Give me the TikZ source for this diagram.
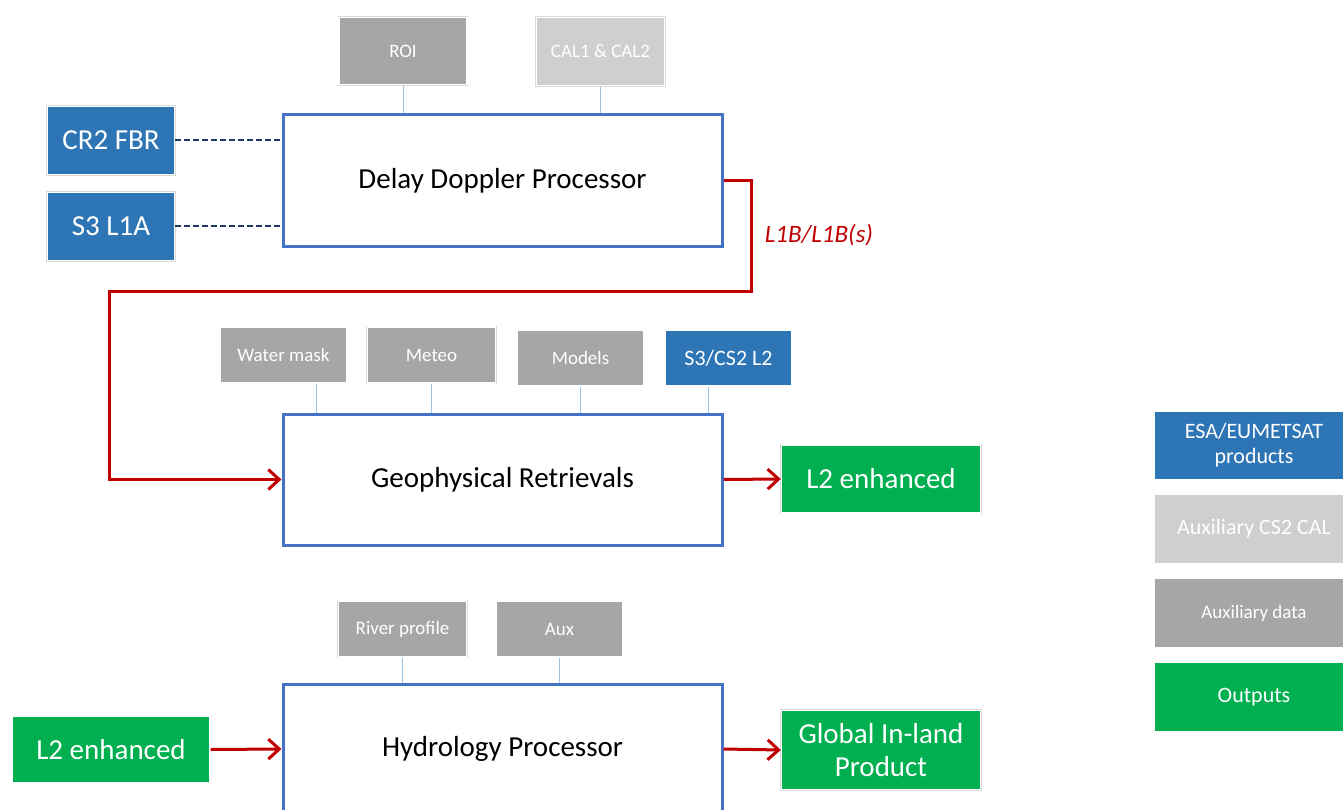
\documentclass[tikz,border=0pt]{standalone}
\usepackage{fontspec}
\setmainfont{Carlito}
\usetikzlibrary{arrows.meta}
\definecolor{prodblue}{HTML}{2E75B6}
\definecolor{auxgray}{HTML}{A6A6A6}
\definecolor{calgray}{HTML}{D0CECE}
\definecolor{outgreen}{HTML}{00B050}
\definecolor{procblue}{HTML}{4472C4}
\definecolor{flowred}{HTML}{C00000}
\definecolor{linkblue}{HTML}{9DC3E6}
\definecolor{dashnavy}{HTML}{203864}
\tikzset{
  fbox/.style={inner sep=0pt, align=center, text=white,
    preaction={draw=black!15, line width=2.6pt},
    draw=white, line width=1.4pt},
  bigtxt/.style={font=\fontsize{29}{33}\selectfont},
  smalltxt/.style={font=\fontsize{19}{22}\selectfont},
  midtxt/.style={font=\fontsize{22}{25}\selectfont},
  proc/.style={draw=procblue, line width=3pt, fill=white, inner sep=0pt,
    minimum width=439pt, font=\fontsize{29}{33}\selectfont},
  prod/.style={fbox, fill=prodblue},
  auxb/.style={fbox, fill=auxgray},
  calb/.style={fbox, fill=calgray},
  outb/.style={fbox, fill=outgreen},
  link/.style={draw=linkblue, line width=1pt},
  dline/.style={draw=dashnavy, line width=2pt, dash pattern=on 6pt off 3pt},
  flow/.style={draw=flowred, line width=3pt},
  flowarrow/.style={flow, -{Straight Barb[length=11pt,width=20pt,line width=3pt]}},
}
\begin{document}
\begin{tikzpicture}[x=1pt,y=-1pt]
\useasboundingbox (0,0) rectangle (1343,810);
\begin{scope}
\clip (0,0) rectangle (1343,810);
% processors
\node[proc, minimum height=132pt] (ddp) at (502.5,181) {\raisebox{-2pt}{Delay Doppler Processor}};
\node[proc, minimum height=131pt] (gr) at (502.5,479.5) {\raisebox{-2pt}{Geophysical Retrievals}};
\node[proc, minimum height=130pt] (hp) at (502.5,749) {\raisebox{-2pt}{Hydrology Processor}};
% top inputs
\node[auxb, smalltxt, minimum width=128pt, minimum height=67pt] (roi) at (403,51) {ROI};
\node[calb, smalltxt, minimum width=128pt, minimum height=68pt] (cal) at (600.5,51.5) {CAL1 \& CAL2};
\node[prod, bigtxt, minimum width=127pt, minimum height=68pt] (cr2) at (111,140.5) {CR2 FBR};
\node[prod, bigtxt, minimum width=127pt, minimum height=68pt] (s3a) at (111,226.5) {S3 L1A};
% GR inputs
\node[auxb, smalltxt, minimum width=127pt, minimum height=56pt] (wm) at (283.5,355) {Water mask};
\node[auxb, smalltxt, minimum width=128pt, minimum height=56pt] (met) at (431.5,355) {Meteo};
\node[auxb, smalltxt, minimum width=127pt, minimum height=56pt] (mod) at (580.5,358) {Models};
\node[prod, midtxt, minimum width=127pt, minimum height=56pt] (s3l2) at (728.5,358) {S3/CS2 L2};
\node[outb, bigtxt, minimum width=199pt, minimum height=68pt] (l2a) at (881,479) {L2 enhanced};
% HP inputs
\node[auxb, smalltxt, minimum width=128pt, minimum height=56pt] (riv) at (402.5,629) {River profile};
\node[auxb, smalltxt, minimum width=127pt, minimum height=56pt] (aux) at (559.5,629) {Aux};
\node[outb, bigtxt, minimum width=198pt, minimum height=67pt] (l2b) at (111,749.5) {L2 enhanced};
\node[outb, bigtxt, minimum width=199pt, minimum height=79pt] (glob) at (881,750) {Global In-land\\Product};
% legend
\node[prod, midtxt, minimum width=200pt, minimum height=69pt] (lg1) at (1254,445.5) {ESA/EUMETSAT\\products};
\node[calb, midtxt, minimum width=200pt, minimum height=70pt] (lg2) at (1254,529) {Auxiliary CS2 CAL};
\node[auxb, smalltxt, minimum width=200pt, minimum height=70pt] (lg3) at (1254,613) {Auxiliary data};
\node[outb, midtxt, minimum width=200pt, minimum height=70pt] (lg4) at (1254,697) {Outputs};
% links
\draw[link] (roi.south) -- (roi.south |- ddp.north);
\draw[link] (cal.south) -- (cal.south |- ddp.north);
\draw[link] ([xshift=33pt]wm.south) -- ([xshift=33pt]wm.south |- gr.north);
\draw[link] (met.south) -- (met.south |- gr.north);
\draw[link] (mod.south) -- (mod.south |- gr.north);
\draw[link] ([xshift=-20pt]s3l2.south) -- ([xshift=-20pt]s3l2.south |- gr.north);
\draw[link] (riv.south) -- (riv.south |- hp.north);
\draw[link] (aux.south) -- (aux.south |- hp.north);
\draw[dline] (cr2.east) -- (cr2.east -| ddp.west);
\draw[dline] (s3a.east) -- (s3a.east -| ddp.west);
% flow
\coordinate (r1) at (751,291);
\coordinate (r2) at (109,291);
\draw[flowarrow] (ddp.east) -| (r1) -- (r2) |- (gr.west);
\node[text=flowred, font=\fontsize{25}{28}\selectfont\itshape] (l1b) at (819,235) {L1B/L1B(s)};
\draw[flowarrow] (gr.east) -- (l2a.west);
\draw[flowarrow] (l2b.east) -- (hp.west);
\draw[flowarrow] (hp.east) -- (glob.west);
\end{scope}
\end{tikzpicture}
\end{document}
